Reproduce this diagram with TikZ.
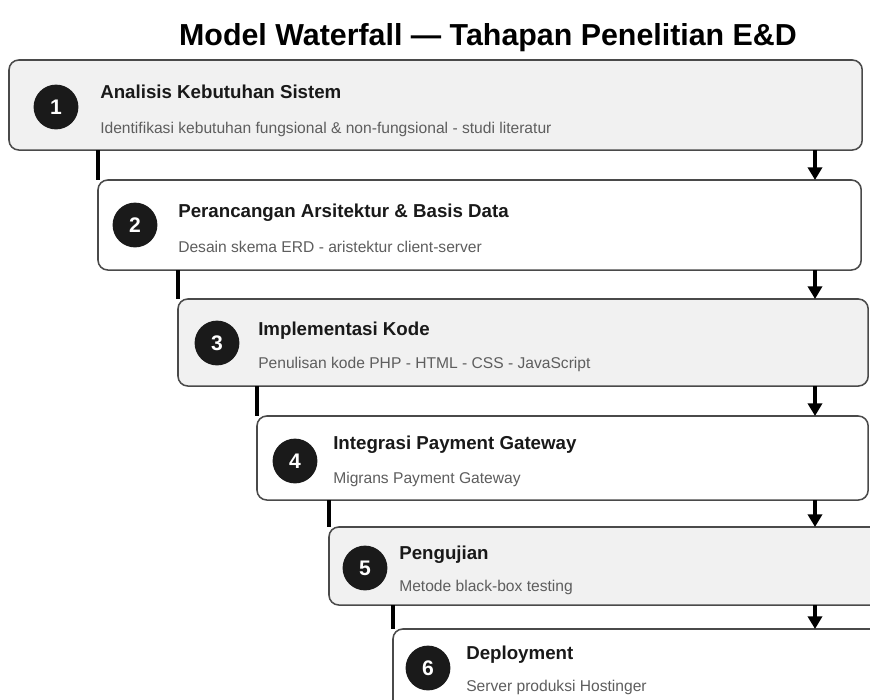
\documentclass[tikz,border=0pt]{standalone}
\usepackage{fontspec}
\setmainfont{Liberation Sans}
\usetikzlibrary{positioning,calc,arrows.meta}
\definecolor{boxgray}{HTML}{F1F1F1}
\definecolor{edgegray}{HTML}{4A4A4A}
\definecolor{subgray}{HTML}{5E5E5E}
\definecolor{dotblack}{HTML}{1A1A1A}
\tikzset{
  stage/.style={draw=edgegray,line width=1.1pt,rounded corners=7pt,
                anchor=north west,inner sep=0pt,outer sep=0pt},
  stagegray/.style={stage,fill=boxgray},
  stagewhite/.style={stage,fill=white},
  badge/.style={circle,fill=dotblack,minimum size=1.12cm,inner sep=0pt,
                text=white,font=\fontsize{15}{17}\selectfont\bfseries},
  heading/.style={anchor=base west,inner sep=0pt,text=black!90,
                  font=\fontsize{13.3}{15}\selectfont\bfseries},
  detail/.style={anchor=base west,inner sep=0pt,text=subgray,
                 font=\fontsize{11.1}{13}\selectfont},
  sideline/.style={line width=2.4pt,draw=black},
  downarrow/.style={sideline,-{Triangle[width=10pt,length=9pt]}}
}

\begin{document}
\begin{tikzpicture}[x=0.025cm,y=-0.025cm]
\useasboundingbox (0,0) rectangle (870,699);
\fill[white] (0,0) rectangle (870,699);
\clip (0,0) rectangle (870,699);
% Title
\node[font=\fontsize{21.6}{25}\selectfont\bfseries,anchor=base] (title) at (488,45)
  {Model Waterfall — Tahapan Penelitian E\&D};
% Arrows on the right all sit on this x
\coordinate (ax) at (815,0);
% Stage boxes, stepping down to the right
\node[stagegray,minimum width=21.325cm,minimum height=2.25cm] (b1) at (9,60) {};
\node[stagewhite,minimum width=19.075cm,minimum height=2.25cm] (b2) at (98,180) {};
\node[stagegray,minimum width=17.25cm,minimum height=2.175cm] (b3) at (178,299) {};
\node[stagewhite,minimum width=15.275cm,minimum height=2.1cm] (b4) at (257,416) {};
\node[stagegray,minimum width=13.9cm,minimum height=1.95cm] (b5) at (329,527) {};
\node[stagewhite,minimum width=12.3cm,minimum height=2.525cm] (b6) at (393,629) {};
% Numbers
\node[badge] (n1) at ($(b1.north west)+(47,47)$) {1};
\node[badge] (n2) at ($(b2.north west)+(37,45)$) {2};
\node[badge] (n3) at ($(b3.north west)+(39,44)$) {3};
\node[badge] (n4) at ($(b4.north west)+(38,45)$) {4};
\node[badge] (n5) at ($(b5.north west)+(36,41)$) {5};
\node[badge] (n6) at ($(b6.north west)+(35,39)$) {6};
% Headings and details
\node[heading] (h1) at ($(b1.north west)+(91,38)$) {Analisis Kebutuhan Sistem};
\node[detail] (d1) at ($(b1.north west)+(91,73)$)
  {Identifikasi kebutuhan fungsional \& non-fungsional - studi literatur};
\node[heading] (h2) at ($(b2.north west)+(80,37)$) {Perancangan Arsitektur \& Basis Data};
\node[detail] (d2) at ($(b2.north west)+(80,72)$) {Desain skema ERD - aristektur client-server};
\node[heading] (h3) at ($(b3.north west)+(80,36)$) {Implementasi Kode};
\node[detail] (d3) at ($(b3.north west)+(80,69)$) {Penulisan kode PHP - HTML - CSS - JavaScript};
\node[heading] (h4) at ($(b4.north west)+(76,33)$) {Integrasi Payment Gateway};
\node[detail] (d4) at ($(b4.north west)+(76,67)$) {Migrans Payment Gateway};
\node[heading] (h5) at ($(b5.north west)+(70,32)$) {Pengujian};
\node[detail] (d5) at ($(b5.north west)+(70,64)$) {Metode black-box testing};
\node[heading] (h6) at ($(b6.north west)+(73,30)$) {Deployment};
\node[detail] (d6) at ($(b6.north west)+(73,62)$) {Server produksi Hostinger};
% Links between stages: plain line on the left, arrow on the right
\draw[sideline] (b1.south -| b2.west) -- (b2.north west);
\draw[downarrow] (b1.south -| ax) -- (b2.north -| ax);
\draw[sideline] (b2.south -| b3.west) -- (b3.north west);
\draw[downarrow] (b2.south -| ax) -- (b3.north -| ax);
\draw[sideline] (b3.south -| b4.west) -- (b4.north west);
\draw[downarrow] (b3.south -| ax) -- (b4.north -| ax);
\draw[sideline] (b4.south -| b5.west) -- (b5.north west);
\draw[downarrow] (b4.south -| ax) -- (b5.north -| ax);
\draw[sideline] (b5.south -| b6.west) -- (b6.north west);
\draw[downarrow] (b5.south -| ax) -- (b6.north -| ax);
\end{tikzpicture}
\end{document}
